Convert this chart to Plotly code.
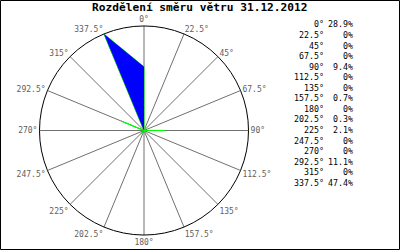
import plotly.graph_objects as go

directions = [0, 22.5, 45, 67.5, 90, 112.5, 135, 157.5, 180, 202.5, 225, 247.5, 270, 292.5, 315, 337.5]
direction_labels = ["0°", "22.5°", "45°", "67.5°", "90°", "112.5°", "135°", "157.5°", "180°",
                    "202.5°", "225°", "247.5°", "270°", "292.5°", "315°", "337.5°"]
percent = [28.9, 0, 0, 0, 9.4, 0, 0, 0.7, 0, 0.3, 2.1, 0, 0, 11.1, 0, 47.4]
percent_labels = ["28.9%", "0%", "0%", "0%", "9.4%", "0%", "0%", "0.7%", "0%", "0.3%",
                  "2.1%", "0%", "0%", "11.1%", "0%", "47.4%"]
title_text = "Rozdělení směru větru 31.12.2012"

W, H = 400, 250

r_closed = percent + [percent[0]]
t_closed = directions + [directions[0]]

fig = go.Figure()
# green outline below
fig.add_trace(go.Scatterpolar(
    r=r_closed, theta=t_closed, mode="lines",
    line=dict(color="#00ff00", width=1),
    hoverinfo="skip", showlegend=False,
))
# blue fill on top
fig.add_trace(go.Scatterpolar(
    r=r_closed, theta=t_closed, mode="lines",
    fill="toself", fillcolor="#0000ff",
    line=dict(color="rgba(0,0,255,0)", width=0),
    hoverinfo="skip", showlegend=False,
))

annotations = [dict(
    text="<b>" + title_text + "</b>", x=200 / W, y=1 - 7 / H, xref="paper", yref="paper",
    xanchor="center", yanchor="middle", showarrow=False,
    font=dict(family="DejaVu Sans Mono", size=11.2, color="black"),
)]
for i, (dl, pl) in enumerate(zip(direction_labels, percent_labels)):
    yy = 1 - (24.5 + i * 10.55) / H
    annotations.append(dict(text=dl, x=326 / W, y=yy, xref="paper", yref="paper",
                            xanchor="right", yanchor="middle", showarrow=False,
                            font=dict(family="DejaVu Sans Mono", size=8.3, color="black")))
    annotations.append(dict(text=pl, x=355 / W, y=yy, xref="paper", yref="paper",
                            xanchor="right", yanchor="middle", showarrow=False,
                            font=dict(family="DejaVu Sans Mono", size=8.3, color="black")))

fig.update_layout(
    width=W, height=H,
    margin=dict(l=0, r=0, t=0, b=0),
    paper_bgcolor="white",
    polar=dict(
        domain=dict(x=[39 / W, 249 / W], y=[15 / H, 224 / H]),
        bgcolor="white",
        angularaxis=dict(
            direction="clockwise", rotation=90,
            tickmode="array", tickvals=directions, ticktext=direction_labels,
            showgrid=True, gridcolor="#707070", gridwidth=1,
            showline=True, linecolor="black", linewidth=1,
            ticks="", tickfont=dict(family="DejaVu Sans Mono", size=8, color="#606060"),
        ),
        radialaxis=dict(range=[0, max(percent)], visible=False),
    ),
    annotations=annotations,
    shapes=[dict(type="rect", xref="paper", yref="paper",
                 x0=0.5 / W, x1=1 - 0.5 / W, y0=0.5 / H, y1=1 - 0.5 / H,
                 line=dict(color="black", width=1))],
)

fig.write_html("out.html")
